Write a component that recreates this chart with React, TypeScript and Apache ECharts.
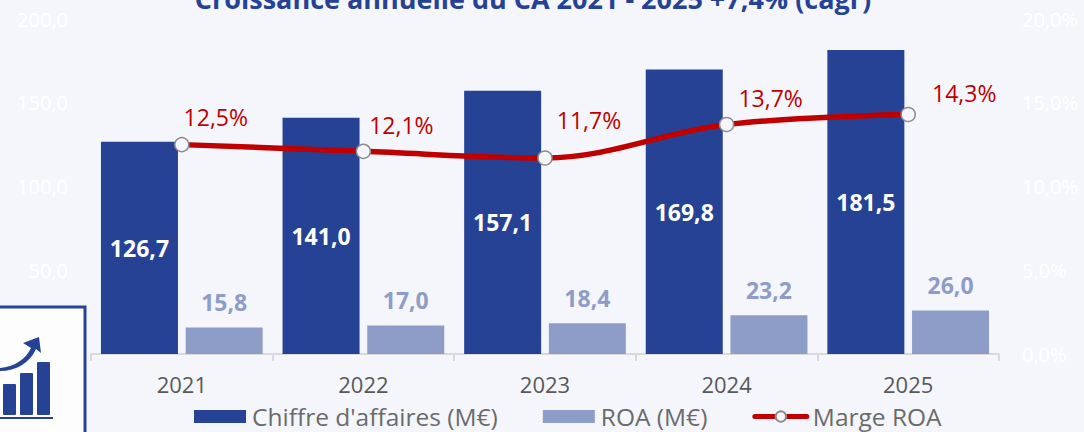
import React, { useEffect, useRef } from "react";
import * as echarts from "echarts";

const years = ["2021", "2022", "2023", "2024", "2025"];
const revenue = [126.7, 141.0, 157.1, 169.8, 181.5];
const roa = [15.8, 17.0, 18.4, 23.2, 26.0];
const margin = [12.5, 12.1, 11.7, 13.7, 14.3];
const marginLabelOffsets = [[34, -3], [38, -2], [44, -14], [44, -2], [56, 3]];

const BLUE = "#264295";
const LIGHT = "#8e9dc7";
const RED = "#c00000";
const BG = "#f4f6fb";
const FONT = "'Open Sans'";
const comma = (v: number, d = 1) => v.toFixed(d).replace(".", ",");

echarts.graphic.registerShape(
  "growthArrow",
  echarts.graphic.extendPath(
    "M0 368 C14 367 26 359 31 348 L23 343 L39 337 L41 353 L36 349 C30 363 16 371 0 371 Z",
    {}
  )
);

export default function App() {
  const ref = useRef<HTMLDivElement>(null);
  useEffect(() => {
    const chart = echarts.init(ref.current!, null, { renderer: "svg" });
    chart.setOption({
      animation: false,
      backgroundColor: BG,
      textStyle: { fontFamily: FONT },
      title: {
        text: "Croissance annuelle du CA 2021 - 2025 +7,4% (cagr)",
        left: 533,
        textAlign: "center",
        top: -15,
        padding: 0,
        textStyle: { color: BLUE, fontSize: 27, fontWeight: "bold", fontFamily: FONT },
      },
      grid: { left: 91, right: 85, top: 19, height: 335 },
      legend: {
        left: 194,
        top: 404,
        padding: 0,
        itemWidth: 52,
        itemHeight: 13,
        itemGap: 45,
        lineStyle: { width: 5, cap: "round" },
        textStyle: { color: "#6b6b6b", fontSize: 24.5, lineHeight: 24, fontFamily: FONT, padding: [0, 0, 0, 1] },
        data: [
          { name: "Chiffre d'affaires (M€)", icon: "rect" },
          { name: "ROA (M€)", icon: "rect" },
          { name: "Marge ROA" },
        ],
      },
      xAxis: {
        type: "category",
        data: years,
        axisLine: { lineStyle: { color: "#d9d9d9", width: 2 } },
        axisTick: { show: true, length: 7, alignWithLabel: false, lineStyle: { color: "#d9d9d9", width: 2 } },
        axisLabel: { color: "#595959", fontSize: 22, margin: 19, fontFamily: FONT },
      },
      yAxis: [
        {
          type: "value",
          min: 0,
          max: 200,
          interval: 50,
          splitLine: { show: false },
          axisLine: { show: false },
          axisTick: { show: false },
          axisLabel: { color: "#ffffff", fontSize: 20, margin: 23, formatter: (v: number) => comma(v) },
        },
        {
          type: "value",
          min: 0,
          max: 20,
          interval: 5,
          splitLine: { show: false },
          axisLine: { show: false },
          axisTick: { show: false },
          axisLabel: { color: "#ffffff", fontSize: 20, margin: 23, formatter: (v: number) => comma(v) + "%" },
        },
      ],
      series: [
        {
          name: "Chiffre d'affaires (M€)",
          type: "bar",
          data: revenue,
          barWidth: 77,
          barGap: "10%",
          itemStyle: { color: BLUE },
          label: {
            show: true,
            position: "inside",
            color: "#ffffff",
            fontSize: 23,
            fontWeight: "bold",
            formatter: (p: any) => comma(p.value),
          },
        },
        {
          name: "ROA (M€)",
          type: "bar",
          data: roa,
          barWidth: 77,
          itemStyle: { color: LIGHT },
          label: {
            show: true,
            position: "top",
            distance: 14,
            color: LIGHT,
            fontSize: 23,
            fontWeight: "bold",
            formatter: (p: any) => comma(p.value),
          },
        },
        {
          name: "Marge ROA",
          type: "line",
          yAxisIndex: 1,
          smooth: 0.35,
          data: margin.map((v, i) => ({
            value: v,
            label: { offset: marginLabelOffsets[i] },
          })),
          lineStyle: { color: RED, width: 5.5 },
          itemStyle: { color: "#f4f6fb", borderColor: "#8c8c8c", borderWidth: 1.5 },
          symbol: "circle",
          symbolSize: 14,
          z: 5,
          label: {
            show: true,
            position: "top",
            color: RED,
            fontSize: 23,
            fontFamily: FONT,
            formatter: (p: any) => comma(p.value) + "%",
          },
        },
      ],
      graphic: [
        {
          type: "group",
          z: -1,
          silent: true,
          children: [
            { type: "rect", z: -1, shape: { x: -4, y: 307, width: 89, height: 140 }, style: { fill: "#fdfdfe", stroke: BLUE, lineWidth: 3 } },
            { type: "rect", z: -1, shape: { x: 3, y: 384, width: 13, height: 31, r: 1 }, style: { fill: BLUE } },
            { type: "rect", z: -1, shape: { x: 20, y: 373, width: 13, height: 42, r: 1 }, style: { fill: BLUE } },
            { type: "rect", z: -1, shape: { x: 37, y: 362, width: 13, height: 53, r: 1 }, style: { fill: BLUE } },
            { type: "rect", z: -1, shape: { x: 0, y: 417, width: 53, height: 2 }, style: { fill: BLUE } },
            { type: "growthArrow", z: -1, style: { fill: BLUE } },
          ],
        },
      ],
    });
    return () => chart.dispose();
  }, []);
  return (
    <div style={{ position: "fixed", left: 0, top: 0 }}>
      <div ref={ref} style={{ width: 1084, height: 432 }} />
    </div>
  );
}
